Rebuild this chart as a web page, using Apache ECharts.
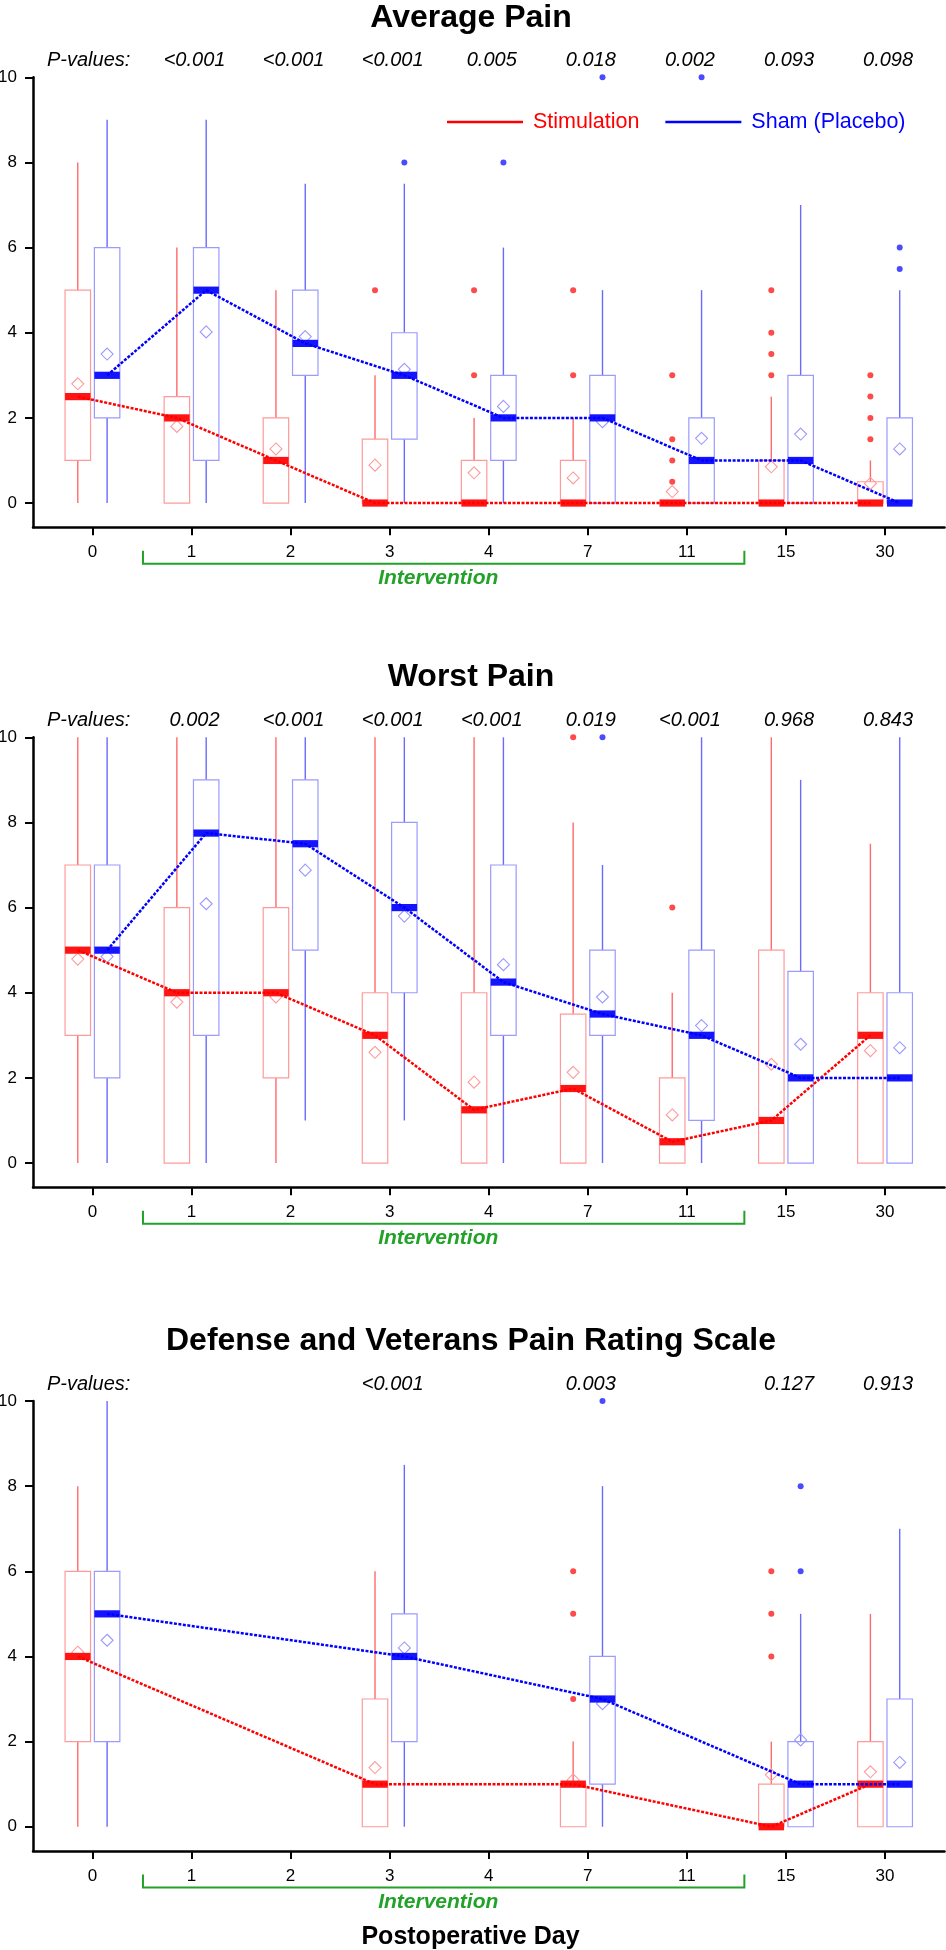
<!DOCTYPE html>
<html>
<head>
<meta charset="utf-8">
<script src="https://cdn.jsdelivr.net/npm/echarts@6/dist/echarts.min.js"></script>
<style>
html,body{margin:0;padding:0;background:#fff;}
#chart{width:946px;height:1950px;}
</style>
</head>
<body>
<div id="chart"></div>
<script>
// ---------------- DATA ----------------
const DAYS = ['0', '1', '2', '3', '4', '7', '11', '15', '30'];
const Y_TICKS = [0, 2, 4, 6, 8, 10];
const X_TICKS = [0, 1, 2, 3, 4, 5, 6, 7, 8];
const PVAL_HEADER = 'P-values:';
const TITLES = ['Average Pain', 'Worst Pain', 'Defense and Veterans Pain Rating Scale'];
const X_TITLE = 'Postoperative Day';
const BRACKET_LABEL = 'Intervention';
const BRACKET_RANGE = [0.51, 6.58];   // in day-index units
const BRACKET_LABEL_AT = 3.49;

// box stats per day: [min, q1, median, q3, max, mean]
const avgStim = [
  [0, 1, 2.5, 5, 8, 2.8], [0, 0, 2, 2.5, 6, 1.8], [0, 0, 1, 2, 5, 1.27],
  [0, 0, 0, 1.5, 3, 0.89], [0, 0, 0, 1, 2, 0.71], [0, 0, 0, 1, 2, 0.59],
  [0, 0, 0, 0, 0, 0.27], [0, 0, 0, 1, 2.5, 0.85], [0, 0, 0, 0.5, 1, 0.46]
];
const avgSham = [
  [0, 2, 3, 6, 9, 3.5], [0, 1, 5, 6, 9, 4.02], [0, 3, 3.75, 5, 7.5, 3.91],
  [0, 1.5, 3, 4, 7.5, 3.14], [0, 1, 2, 3, 6, 2.27], [0, 0, 2, 3, 5, 1.91],
  [0, 0, 1, 2, 5, 1.52], [0, 0, 1, 3, 7, 1.62], [0, 0, 0, 2, 5, 1.27]
];
// outliers: [dayIndex, value]
const avgStimOut = [[3, 5], [4, 5], [4, 3], [5, 5], [5, 3], [6, 3], [6, 1.5], [6, 1], [6, 0.5],
  [7, 5], [7, 4], [7, 3.5], [7, 3], [8, 3], [8, 2.5], [8, 2], [8, 1.5]];
const avgShamOut = [[3, 8], [4, 8], [5, 10], [6, 10], [8, 6], [8, 5.5]];
const avgP = ['', '<0.001', '<0.001', '<0.001', '0.005', '0.018', '0.002', '0.093', '0.098'];

const worstStim = [
  [0, 3, 5, 7, 10, 4.79], [0, 0, 4, 6, 10, 3.78], [0, 2, 4, 6, 10, 3.9],
  [0, 0, 3, 4, 10, 2.6], [0, 0, 1.25, 4, 10, 1.9], [0, 0, 1.75, 3.5, 8, 2.13],
  [0, 0, 0.5, 2, 4, 1.13], [0, 0, 1, 5, 10, 2.32], [0, 0, 3, 4, 7.5, 2.64]
];
const worstSham = [
  [0, 2, 5, 7, 10, 4.85], [0, 3, 7.75, 9, 10, 6.09], [1, 5, 7.5, 9, 10, 6.88],
  [1, 4, 6, 8, 10, 5.8], [0, 3, 4.25, 7, 10, 4.66], [0, 3, 3.5, 5, 7, 3.9],
  [0, 1, 3, 5, 10, 3.23], [0, 0, 2, 4.5, 9, 2.79], [0, 0, 2, 4, 10, 2.71]
];
const worstStimOut = [[5, 10], [6, 6]];
const worstShamOut = [[5, 10]];
const worstP = ['', '0.002', '<0.001', '<0.001', '<0.001', '0.019', '<0.001', '0.968', '0.843'];

const dvprsStim = [
  [0, 2, 4, 6, 8, 4.1], null, null, [0, 0, 1, 3, 6, 1.39], null,
  [0, 0, 1, 1, 2, 1.1], null, [0, 0, 0, 1, 2, 1.22], [0, 0, 1, 2, 5, 1.29]
];
const dvprsSham = [
  [0, 2, 5, 6, 10, 4.38], null, null, [0, 2, 4, 5, 8.5, 4.2], null,
  [0, 1, 3, 4, 8, 2.89], null, [0, 0, 1, 2, 5, 2.04], [0, 0, 1, 3, 7, 1.51]
];
const dvprsStimOut = [[5, 6], [5, 5], [5, 3], [7, 6], [7, 5], [7, 4]];
const dvprsShamOut = [[5, 10], [7, 8], [7, 6]];
const dvprsP = ['', '', '', '<0.001', '', '0.003', '', '0.127', '0.913'];

// ---------------- STYLE / LAYOUT ----------------
const FONT = '"Liberation Sans", Arial, Helvetica, sans-serif';
const OFF = 0.148;      // box offset from day tick (index units)
const BOXW = 0.257;     // box width (index units)
const YMIN = -0.57;
const GRID_TOPS = [77.3, 737.3, 1401];
const GRID_H = 450;
const TITLE_Y = [18, 677.5, 1341.5];
const RED = {main: '#ff0000', med: '#ff1414', box: '#ff9a9a', whisk: '#ff6a6a', out: '#ff4a4a', mean: '#ff9a9a'};
const BLUE = {main: '#0000ff', med: '#1414ff', box: '#9a9aff', whisk: '#6a6aff', out: '#4a4aff', mean: '#9a9aff'};
const GREEN = '#22a229';

const panels = [
  {stim: avgStim, sham: avgSham, stimOut: avgStimOut, shamOut: avgShamOut, p: avgP},
  {stim: worstStim, sham: worstSham, stimOut: worstStimOut, shamOut: worstShamOut, p: worstP},
  {stim: dvprsStim, sham: dvprsSham, stimOut: dvprsStimOut, shamOut: dvprsShamOut, p: dvprsP}
];

function boxRenderer(off, col) {
  return function (params, api) {
    const x = api.value(0) + off;
    const cx = api.coord([x, 0])[0];
    const y = k => api.coord([x, api.value(k)])[1];
    const yMin = y(1), yQ1 = y(2), yMed = y(3), yQ3 = y(4), yMax = y(5), yMean = y(6);
    const w = api.size([BOXW, 0])[0];
    const d = 6;
    return {
      type: 'group',
      children: [
        {type: 'line', shape: {x1: cx, y1: yQ1, x2: cx, y2: yMin}, style: {stroke: col.whisk, lineWidth: 1.4}},
        {type: 'line', shape: {x1: cx, y1: yQ3, x2: cx, y2: yMax}, style: {stroke: col.whisk, lineWidth: 1.4}},
        {type: 'rect', shape: {x: cx - w / 2, y: yQ3, width: w, height: Math.max(yQ1 - yQ3, 0)},
          style: {fill: 'none', stroke: col.box, lineWidth: 1.2}},
        {type: 'polygon', shape: {points: [[cx, yMean - d], [cx + d, yMean], [cx, yMean + d], [cx - d, yMean]]},
          style: {fill: 'none', stroke: col.mean, lineWidth: 1.1}},
        {type: 'rect', shape: {x: cx - w / 2, y: yMed - 3.6, width: w, height: 7.2}, style: {fill: col.med}}
      ]
    };
  };
}

function boxData(arr) {
  const out = [];
  arr.forEach((v, i) => { if (v) out.push([i].concat(v)); });
  return out;
}
function medianData(arr, off) {
  const out = [];
  arr.forEach((v, i) => { if (v) out.push([i + off, v[2]]); });
  return out;
}

const grids = [], xAxes = [], yAxes = [], series = [];
panels.forEach((pn, k) => {
  grids.push({left: 33, right: 1.5, top: GRID_TOPS[k], height: GRID_H, containLabel: false, outerBoundsMode: 'none'});
  xAxes.push({
    type: 'value', gridIndex: k, min: -0.6, max: 8.6,
    axisLine: {show: true, onZero: false, lineStyle: {color: '#000', width: 2.5}},
    axisTick: {show: true, customValues: X_TICKS, length: 8, lineStyle: {color: '#000', width: 2}},
    axisLabel: {show: true, customValues: X_TICKS, formatter: v => DAYS[Math.round(v)] || '',
      fontSize: 17, color: '#000', margin: 17, fontFamily: FONT},
    splitLine: {show: false}
  });
  yAxes.push({
    type: 'value', gridIndex: k, min: YMIN, max: 10,
    axisLine: {show: true, onZero: false, lineStyle: {color: '#000', width: 2.5}},
    axisTick: {show: true, customValues: Y_TICKS, length: 8, lineStyle: {color: '#000', width: 2}},
    axisLabel: {show: true, customValues: Y_TICKS, fontSize: 17, color: '#000', margin: 16, fontFamily: FONT},
    splitLine: {show: false}
  });
  const common = {xAxisIndex: k, yAxisIndex: k, animation: false, silent: true};
  series.push(Object.assign({type: 'custom', name: 'Stimulation', z: 2, clip: false,
    renderItem: boxRenderer(-OFF, RED), data: boxData(pn.stim), itemStyle: {color: RED.main}}, common));
  series.push(Object.assign({type: 'custom', name: 'Sham (Placebo)', z: 2, clip: false,
    renderItem: boxRenderer(OFF, BLUE), data: boxData(pn.sham), itemStyle: {color: BLUE.main}}, common));
  series.push(Object.assign({type: 'scatter', name: 'Stimulation', z: 3, symbolSize: 6,
    itemStyle: {color: RED.out, opacity: 1}, data: pn.stimOut.map(([i, v]) => [i - OFF, v])}, common));
  series.push(Object.assign({type: 'scatter', name: 'Sham (Placebo)', z: 3, symbolSize: 6,
    itemStyle: {color: BLUE.out, opacity: 1}, data: pn.shamOut.map(([i, v]) => [i + OFF, v])}, common));
  series.push(Object.assign({type: 'line', name: 'Stimulation', z: 4, symbol: 'none', showSymbol: false,
    lineStyle: {color: RED.main, width: 2.5, type: [3, 1.5]}, itemStyle: {color: RED.main},
    data: medianData(pn.stim, -OFF)}, common));
  series.push(Object.assign({type: 'line', name: 'Sham (Placebo)', z: 4, symbol: 'none', showSymbol: false,
    lineStyle: {color: BLUE.main, width: 2.5, type: [3, 1.5]}, itemStyle: {color: BLUE.main},
    data: medianData(pn.sham, OFF)}, common));
  // p-values row
  const pArr = pn.p;
  series.push(Object.assign({type: 'custom', z: 5, clip: false,
    data: pArr.map((t, i) => [i]),
    renderItem: function (params, api) {
      const i = api.value(0);
      const yPix = api.coord([0, 10.42])[1] + 1;
      if (params.dataIndex === 0) {
        const left = api.coord([-0.6, 0])[0];
        return {type: 'text', x: left + 14, y: yPix,
          style: {text: PVAL_HEADER, font: 'italic 20px ' + FONT, fill: '#000', align: 'left', verticalAlign: 'middle'}};
      }
      const t = pArr[params.dataIndex];
      if (!t) return null;
      return {type: 'text', x: api.coord([i, 0])[0] + 3, y: yPix,
        style: {text: t, font: 'italic 20px ' + FONT, fill: '#000', align: 'center', verticalAlign: 'middle'}};
    }}, common));
  // intervention bracket
  series.push(Object.assign({type: 'custom', z: 5, clip: false,
    data: [[BRACKET_RANGE[0], BRACKET_RANGE[1], BRACKET_LABEL_AT]],
    renderItem: function (params, api) {
      const axisY = api.coord([0, YMIN])[1];
      const x1 = api.coord([api.value(0), 0])[0];
      const x2 = api.coord([api.value(1), 0])[0];
      const xt = api.coord([api.value(2), 0])[0];
      const yTop = axisY + 23.5, yLine = axisY + 36.5;
      return {type: 'group', children: [
        {type: 'polyline', shape: {points: [[x1, yTop], [x1, yLine], [x2, yLine], [x2, yTop]]},
          style: {stroke: GREEN, lineWidth: 2, fill: 'none'}},
        {type: 'text', x: xt, y: axisY + 51,
          style: {text: BRACKET_LABEL, font: 'italic bold 21px ' + FONT, fill: GREEN, align: 'center', verticalAlign: 'middle'}}
      ]};
    }}, common));
});

const graphic = TITLES.map((t, k) => ({
  type: 'text', x: 471, y: TITLE_Y[k], silent: true,
  style: {text: t, font: 'bold 32px ' + FONT, fill: '#000', align: 'center', verticalAlign: 'middle'}
}));
graphic.push({type: 'text', x: 470.5, y: 1937, silent: true,
  style: {text: X_TITLE, font: 'bold 25px ' + FONT, fill: '#000', align: 'center', verticalAlign: 'middle'}});

const chart = echarts.init(document.getElementById('chart'), null, {renderer: 'canvas'});
chart.setOption({
  animation: false,
  backgroundColor: '#fff',
  grid: grids,
  xAxis: xAxes,
  yAxis: yAxes,
  legend: {
    left: 447, top: 111, padding: 0, orient: 'horizontal',
    itemWidth: 76, itemHeight: 2.5, itemGap: 26, icon: 'rect', selectedMode: false,
    textStyle: {fontSize: 21.5, fontFamily: FONT, padding: [0, 0, 0, 5]},
    data: [
      {name: 'Stimulation', icon: 'rect', itemStyle: {color: RED.main}, textStyle: {color: RED.main}},
      {name: 'Sham (Placebo)', icon: 'rect', itemStyle: {color: BLUE.main}, textStyle: {color: BLUE.main}}
    ]
  },
  graphic: graphic,
  series: series
});
</script>
</body>
</html>
